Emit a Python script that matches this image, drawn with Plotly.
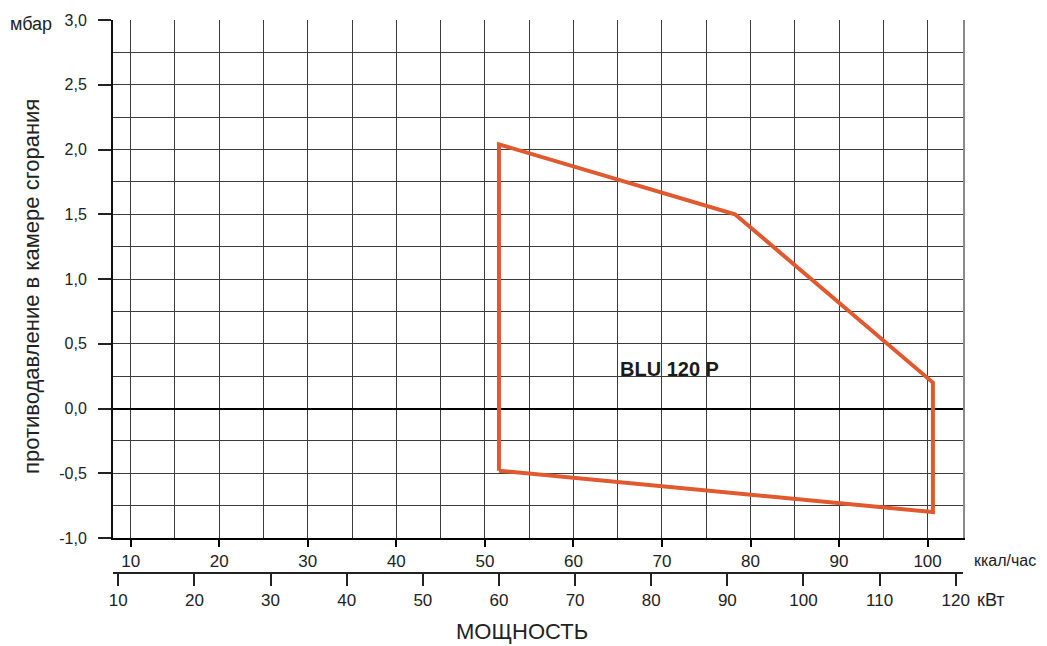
import plotly.graph_objects as go

# --- data ---
kw_values = [60, 60, 91, 117, 117, 60]                 # output, kW
pressure_mbar = [-0.48, 2.04, 1.5, 0.2, -0.8, -0.48]   # back-pressure, mbar
model_label = "BLU 120 P"
label_kw = 82.4
label_mbar = 0.29

kcal_range = [8, 104]          # thousand kcal/h
KW_PER_MCAL = 1.163
kw_range = [v * KW_PER_MCAL for v in kcal_range]
y_range = [-1.0, 3.0]
y_ticks = [-1.0, -0.5, 0.0, 0.5, 1.0, 1.5, 2.0, 2.5, 3.0]
y_tick_labels = ["-1,0", "-0,5", "0,0", "0,5", "1,0", "1,5", "2,0", "2,5", "3,0"]

NARROW = "Liberation Sans Narrow, Arial Narrow, Liberation Sans, Arial, sans-serif"
REG = "Liberation Sans, Arial, sans-serif"
GRID = "#3c3c3c"
ORANGE = "#E0592F"
TXT = "#222"

fig = go.Figure()
# invisible anchors so the main and border subplots exist
fig.add_trace(go.Scatter(x=[kcal_range[0]], y=[y_range[0]], xaxis="x", yaxis="y",
                         mode="markers", marker=dict(opacity=0), hoverinfo="skip", showlegend=False))
fig.add_trace(go.Scatter(x=[kcal_range[0]], y=[y_range[0]], xaxis="x", yaxis="y2",
                         mode="markers", marker=dict(opacity=0), hoverinfo="skip", showlegend=False))
fig.add_trace(go.Scatter(
    x=kw_values, y=pressure_mbar, xaxis="x2", yaxis="y",
    mode="lines", line=dict(color=ORANGE, width=4), hoverinfo="skip", showlegend=False))
fig.add_trace(go.Scatter(
    x=[label_kw], y=[label_mbar], xaxis="x2", yaxis="y", mode="text",
    text=["<b>" + model_label + "</b>"], textfont=dict(family=REG, size=20, color="#1a1a1a"),
    hoverinfo="skip", showlegend=False))

# the page body adds an 8 px offset; figure is sized to compensate
W, H = 1039, 638
ML, MR, MT, MB = 105, 84, 12, 73
H_PAPER = H - MT - MB
W_PAPER = W - ML - MR
X0, Y_BOTTOM = 8 + ML, 8 + MT + H_PAPER


def px(x):
    return (x - X0) / W_PAPER


def py(y):
    return (Y_BOTTOM - y) / H_PAPER


fig.update_layout(
    width=W, height=H, autosize=False,
    margin=dict(l=ML, r=MR, t=MT, b=MB),
    paper_bgcolor="white", plot_bgcolor="white",
    separators=", ",
    xaxis=dict(
        domain=[0, 1], range=kcal_range, anchor="y", automargin=False,
        tick0=0, dtick=10, ticks="outside", ticklen=7, tickwidth=2, tickcolor="black",
        showline=True, linecolor="black", linewidth=2,
        showgrid=True, gridcolor=GRID, gridwidth=1,
        minor=dict(dtick=5, tick0=0, showgrid=True, gridcolor=GRID, gridwidth=1, ticks=""),
        zeroline=False,
        tickfont=dict(family=REG, size=17, color=TXT),
    ),
    xaxis2=dict(
        overlaying="x", anchor="free", position=0, side="bottom", automargin=False,
        range=kw_range, tick0=0, dtick=10,
        ticks="outside", ticklen=12, tickwidth=2, tickcolor=TXT,
        showline=True, linecolor=TXT, linewidth=2,
        showgrid=False, zeroline=False,
        tickfont=dict(family=REG, size=17, color=TXT),
    ),
    yaxis=dict(
        domain=[35 / H_PAPER, 1], range=y_range, anchor="x", automargin=False,
        tickmode="array", tickvals=y_ticks, ticktext=y_tick_labels,
        ticks="outside", ticklen=13, tickwidth=2, tickcolor=TXT, ticklabelstandoff=8,
        showline=True, linecolor="#111", linewidth=2,
        showgrid=True, gridcolor=GRID, gridwidth=1,
        minor=dict(dtick=0.25, tick0=0, showgrid=True, gridcolor=GRID, gridwidth=1, ticks=""),
        zeroline=True, zerolinecolor="black", zerolinewidth=2,
        tickfont=dict(family=REG, size=16, color=TXT),
    ),
    yaxis2=dict(
        overlaying="y", side="right", anchor="x", range=y_range, automargin=False,
        showline=True, linecolor="#8a8a8a", linewidth=2,
        showgrid=False, zeroline=False, showticklabels=False, ticks="",
    ),
    annotations=[
        dict(text="мбар", xref="paper", yref="paper", x=px(31), y=py(24),
             showarrow=False, font=dict(family=NARROW, size=18, color=TXT), xanchor="center", yanchor="middle"),
        dict(text="противодавление в камере сгорания", xref="paper", yref="paper",
             x=px(31), y=py(287), textangle=-90,
             showarrow=False, font=dict(family=NARROW, size=22, color=TXT), xanchor="center", yanchor="middle"),
        dict(text="ккал/час", xref="paper", yref="paper", x=px(1005), y=py(560),
             showarrow=False, font=dict(family=NARROW, size=16, color=TXT), xanchor="center", yanchor="middle"),
        dict(text="кВт", xref="paper", yref="paper", x=px(991), y=py(600),
             showarrow=False, font=dict(family=NARROW, size=18, color=TXT), xanchor="center", yanchor="middle"),
        dict(text="МОЩНОСТЬ", xref="paper", yref="paper", x=px(522), y=py(631),
             showarrow=False, font=dict(family=NARROW, size=22, color=TXT), xanchor="center", yanchor="middle"),
    ],
)

fig.write_html("out.html")
